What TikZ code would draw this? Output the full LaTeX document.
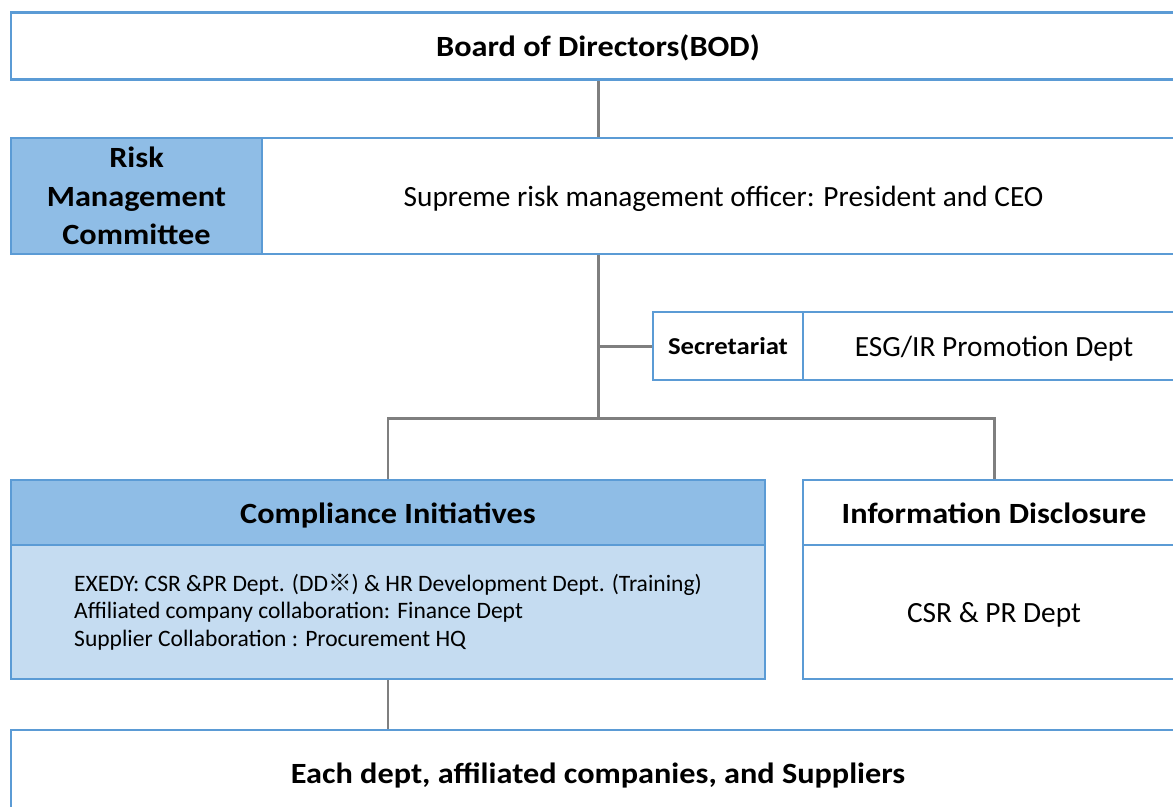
\documentclass[tikz,border=0pt]{standalone}
\usepackage{fontspec}
\setmainfont{Carlito}[BoldFeatures={FakeStretch=1.1}]
\newfontfamily\cjk{Noto Sans CJK JP}
\usetikzlibrary{backgrounds}
\definecolor{boxline}{HTML}{5B9BD5}
\definecolor{headfill}{HTML}{8FBDE6}
\definecolor{bodyfill}{HTML}{C5DCF1}
\definecolor{linkgray}{HTML}{7F7F7F}
\tikzset{
  box/.style={draw=boxline, line width=1.4pt, fill=white, inner sep=0pt,
    font=\fontsize{16.7}{20}\selectfont, align=center},
  title/.style={box, font=\fontsize{16.7}{22}\selectfont\bfseries},
  head/.style={title, fill=headfill},
  oneline/.style={text height=15.5pt, text depth=3.5pt},
  link/.style={draw=linkgray, line width=1.7pt}
}
\begin{document}
\begin{tikzpicture}[x=0.02cm, y=-0.02cm]
    \useasboundingbox (0,0) rectangle (1173,806);
    \clip (0,0) rectangle (1173,806);
    % top level
    \node[title, oneline, minimum width=23.48cm, minimum height=1.34cm] (bod) at (598,46) {Board of Directors(BOD)};
    \node[head, minimum width=5.02cm, minimum height=2.32cm] (risk) at (136.5,196) {Risk\\Management\\Committee};
    \node[box, oneline, minimum width=18.46cm, minimum height=2.32cm] (ceo) at (723.5,196) {Supreme risk management officer: President and CEO};
    % secretariat
    \node[box, oneline, text height=13.5pt, font=\fontsize{13.8}{16}\selectfont\bfseries, minimum width=3cm, minimum height=1.36cm] (sec) at (728,346) {Secretariat};
    \node[box, oneline, minimum width=7.64cm, minimum height=1.36cm] (esg) at (994,346) {ESG/IR Promotion Dept};
    % initiatives
    \node[head, oneline, minimum width=15.08cm, minimum height=1.3cm] (comp) at (388,512.5) {Compliance Initiatives};
    \node[box, fill=bodyfill, align=left, font=\fontsize{13.4}{15.6}\selectfont, minimum width=15.08cm, minimum height=2.68cm] (compbody) at (388,612)
        {EXEDY: CSR \&PR Dept. (DD{\cjk ※}) \& HR Development Dept. (Training)\\
         Affiliated company collaboration: Finance Dept\\
         Supplier Collaboration : Procurement HQ};
    \node[title, oneline, minimum width=7.64cm, minimum height=1.3cm] (info) at (994,512.5) {Information Disclosure};
    \node[box, oneline, minimum width=7.64cm, minimum height=2.68cm] (infobody) at (994,612) {CSR \& PR Dept};
    % bottom
    \node[title, oneline, minimum width=23.48cm, minimum height=1.72cm] (each) at (598,773) {Each dept, affiliated companies, and Suppliers};
    \coordinate (split) at (598,418);
    \begin{pgfonlayer}{background}
        \draw[link] (bod.south) -- (bod.south |- ceo.north);
        \draw[link] (ceo.south -| split) -- (split);
        \draw[link] (sec.west -| split) -- (sec.west);
        \draw[link] (comp.north) |- (split) -| (info.north);
        \draw[link] (compbody.south) -- (compbody.south |- each.north);
    \end{pgfonlayer}
\end{tikzpicture}
\end{document}
